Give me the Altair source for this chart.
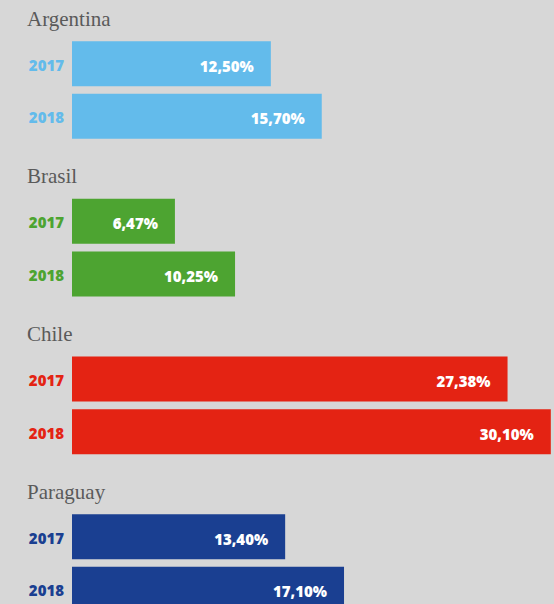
import altair as alt
import pandas as pd

countries = ["Argentina", "Brasil", "Chile", "Paraguay"]
colors = ["#63bbeb", "#4da431", "#e42313", "#1a3f91"]
years = ["2017", "2018"]
values_2017 = [12.50, 6.47, 27.38, 13.40]
values_2018 = [15.70, 10.25, 30.10, 17.10]

records = []
for c, v17, v18 in zip(countries, values_2017, values_2018):
    for y, v in zip(years, [v17, v18]):
        records.append({
            "country": c,
            "year": y,
            "row": f"{c} {y}",
            "value": v,
            "label": f"{v:.2f}".replace(".", ",") + "%",
        })
df = pd.DataFrame(records)

# band rows: two bars per country, with an empty row between groups
rows = []
for i, c in enumerate(countries):
    rows += [f"{c} 2017", f"{c} 2018"]
    if i < len(countries) - 1:
        rows.append(f"gap {i}")

titles = pd.DataFrame({"country": countries, "row": [f"{c} 2017" for c in countries]})

y_enc = alt.Y("row:N", scale=alt.Scale(domain=rows, paddingInner=0.1445, paddingOuter=0.783), axis=None)
color_enc = alt.Color("country:N", scale=alt.Scale(domain=countries, range=colors), legend=None)
x_scale = alt.Scale(domain=[0, 30.3], nice=False, zero=True)

base = alt.Chart(df)

bars = base.mark_bar().encode(
    x=alt.X("value:Q", scale=x_scale, axis=None),
    y=y_enc,
    color=color_enc,
)

values = base.mark_text(
    align="right", baseline="middle", dx=-17, dy=3,
    font="Open Sans", fontWeight=800, fontSize=15, color="white",
).encode(
    x=alt.X("value:Q", scale=x_scale),
    y=y_enc,
    text="label:N",
)

year_labels = base.mark_text(
    align="right", baseline="middle", dx=-8, dy=2,
    font="Open Sans", fontWeight=800, fontSize=15,
).encode(
    x=alt.value(0),
    y=y_enc,
    text="year:N",
    color=color_enc,
)

country_titles = alt.Chart(titles).mark_text(
    align="left", baseline="alphabetic", dx=-45, dy=-38,
    font="Liberation Serif", fontSize=21, color="#5a5a5a",
).encode(
    x=alt.value(0),
    y=y_enc,
    text="country:N",
)

chart = alt.layer(bars, values, year_labels, country_titles).properties(
    width=482,
    height=653,
    padding={"left": 72, "top": 0, "right": 0, "bottom": 0},
    autosize=alt.AutoSizeParams(type="none"),
    background="#d7d7d7",
).configure_view(stroke=None)

chart.save("out.html", embed_options={"renderer": "svg", "actions": False})
